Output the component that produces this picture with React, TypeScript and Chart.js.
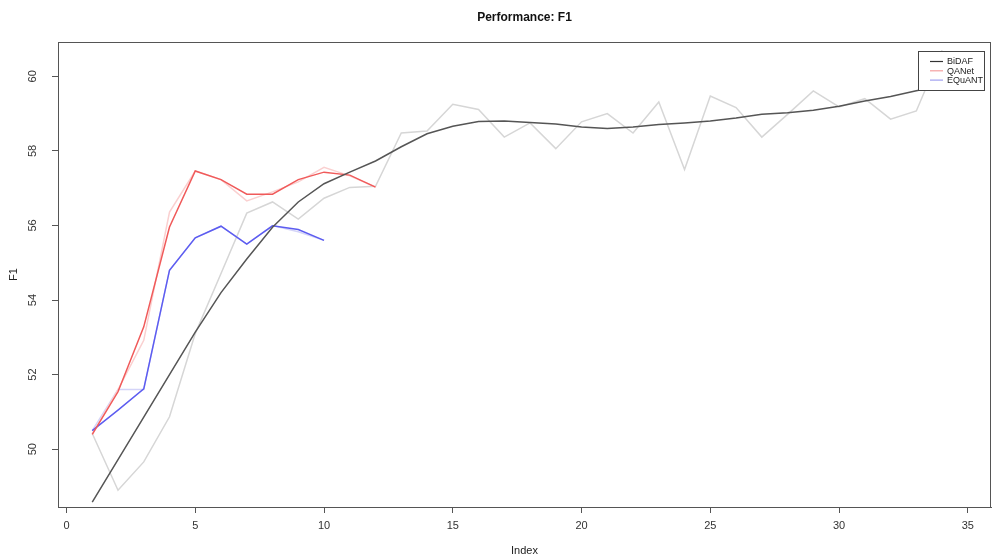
import React, { useEffect, useRef } from "react";
import { Chart, registerables } from "chart.js";

Chart.register(...registerables);

const bidafX = [1, 2, 3, 4, 5, 6, 7, 8, 9, 10, 11, 12, 13, 14, 15, 16, 17, 18, 19, 20, 21, 22, 23, 24, 25, 26, 27, 28, 29, 30, 31, 32, 33, 34];
const bidafSmooth = [48.58, 49.72, 50.86, 52.0, 53.14, 54.2, 55.1, 55.95, 56.63, 57.12, 57.43, 57.73, 58.11, 58.46, 58.66, 58.79, 58.8, 58.76, 58.72, 58.64, 58.6, 58.64, 58.71, 58.75, 58.8, 58.88, 58.98, 59.02, 59.09, 59.2, 59.34, 59.46, 59.61, 59.75];
const bidafRaw = [50.42, 48.9, 49.66, 50.87, 53.1, 54.71, 56.33, 56.63, 56.17, 56.73, 57.02, 57.05, 58.48, 58.53, 59.25, 59.11, 58.37, 58.75, 58.06, 58.78, 59.0, 58.48, 59.31, 57.5, 59.47, 59.16, 58.37, 58.98, 59.61, 59.18, 59.4, 58.85, 59.07, 60.7];

const qanetX = [1, 2, 3, 4, 5, 6, 7, 8, 9, 10, 11, 12];
const qanetSmooth = [50.4, 51.54, 53.28, 55.96, 57.46, 57.23, 56.84, 56.84, 57.23, 57.43, 57.35, 57.03];
const qanetRaw = [50.4, 51.6, 52.92, 56.36, 57.46, 57.23, 56.66, 56.9, 57.17, 57.56, 57.33, 57.03];

const equantX = [1, 2, 3, 4, 5, 6, 7, 8, 9, 10];
const equantSmooth = [50.5, 51.05, 51.62, 54.8, 55.67, 55.98, 55.5, 55.99, 55.89, 55.6];
const equantRaw = [50.5, 51.6, 51.6, 54.8, 55.67, 55.98, 55.5, 56.0, 55.83, 55.6];

const xTicks = [0, 5, 10, 15, 20, 25, 30, 35];
const yTicks = [50, 52, 54, 56, 58, 60];

const legendLabels = ["BiDAF", "QANet", "EQuANT"];
const legendColors = ["#333333", "#f4a0a0", "#a0a0f0"];

const titleText = "Performance: F1";
const xTitle = "Index";
const yTitle = "F1";

const FONT = "'Liberation Sans', Arial, Helvetica, sans-serif";

const pts = (xs: number[], ys: number[]) => xs.map((x, i) => ({ x, y: ys[i] }));

const decorPlugin = {
  id: "decor",
  afterDatasetsDraw(chart: any) {
    const { ctx, chartArea } = chart;
    const { left, right, top, bottom } = chartArea;
    ctx.save();
    // box
    ctx.strokeStyle = "#555555";
    ctx.lineWidth = 1;
    ctx.strokeRect(Math.round(left) + 0.5, Math.round(top) + 0.5, Math.round(right - left) - 1, Math.round(bottom - top));

    // legend
    const lx = 918.5, ly = 51.5, lw = 66, lh = 39;
    ctx.fillStyle = "#ffffff";
    ctx.fillRect(lx, ly, lw, lh);
    ctx.strokeStyle = "#444444";
    ctx.strokeRect(lx, ly, lw, lh);
    ctx.font = `9px ${FONT}`;
    ctx.textBaseline = "middle";
    ctx.textAlign = "left";
    legendLabels.forEach((lab, i) => {
      const yy = 61.5 + i * 9.3;
      ctx.strokeStyle = legendColors[i];
      ctx.lineWidth = 1.2;
      ctx.beginPath();
      ctx.moveTo(930, yy);
      ctx.lineTo(943, yy);
      ctx.stroke();
      ctx.fillStyle = "#222222";
      ctx.fillText(lab, 947, yy + 0.5);
    });

    // titles
    const cx = (left + right) / 2;
    ctx.fillStyle = "#111111";
    ctx.textAlign = "center";
    ctx.textBaseline = "middle";
    ctx.font = `bold 12px ${FONT}`;
    ctx.fillText(titleText, cx, 18);
    ctx.font = `11px ${FONT}`;
    ctx.fillStyle = "#222222";
    ctx.fillText(xTitle, cx, 551);
    ctx.save();
    ctx.translate(14, (top + bottom) / 2);
    ctx.rotate(-Math.PI / 2);
    ctx.fillText(yTitle, 0, 0);
    ctx.restore();
    ctx.restore();
  },
};

export default function App() {
  const ref = useRef<HTMLCanvasElement | null>(null);
  useEffect(() => {
    if (!ref.current) return;
    const tickFont = { family: FONT, size: 11 };
    const chart = new Chart(ref.current, {
      type: "line",
      data: {
        datasets: [
          { label: "BiDAF", data: pts(bidafX, bidafSmooth), borderColor: "#555555", borderWidth: 1.5, order: 1 },
          { label: "QANet", data: pts(qanetX, qanetSmooth), borderColor: "#f05a5a", borderWidth: 1.5, order: 2 },
          { label: "EQuANT", data: pts(equantX, equantSmooth), borderColor: "#5c5cf0", borderWidth: 1.5, order: 3 },
          { label: "BiDAF raw", data: pts(bidafX, bidafRaw), borderColor: "#d6d6d6", borderWidth: 1.5, order: 6 },
          { label: "QANet raw", data: pts(qanetX, qanetRaw), borderColor: "#fad0d0", borderWidth: 1.5, order: 4 },
          { label: "EQuANT raw", data: pts(equantX, equantRaw), borderColor: "#d4d4f8", borderWidth: 1.5, order: 5 },
        ],
      },
      options: {
        responsive: false,
        animation: false,
        devicePixelRatio: 1,
        layout: { padding: { left: 0, top: 42, right: 4, bottom: 0 } },
        elements: { point: { radius: 0 }, line: { tension: 0, fill: false } },
        plugins: { legend: { display: false }, title: { display: false }, tooltip: { enabled: false } },
        scales: {
          x: {
            type: "linear",
            min: -0.33,
            max: 35.9,
            afterBuildTicks: (s: any) => { s.ticks = xTicks.map((v) => ({ value: v })); },
            afterFit: (s: any) => { s.height = 53; },
            grid: { drawOnChartArea: false, drawTicks: true, tickLength: 6, color: "#555555" },
            border: { display: true, color: "#555555" },
            ticks: { font: tickFont, color: "#333333", padding: 6, maxRotation: 0, autoSkip: false },
          },
          y: {
            type: "linear",
            min: 48.45,
            max: 60.92,
            afterBuildTicks: (s: any) => { s.ticks = yTicks.map((v) => ({ value: v })); },
            afterFit: (s: any) => { s.width = 58; },
            grid: { drawOnChartArea: false, drawTicks: true, tickLength: 6, color: "#555555" },
            border: { display: true, color: "#555555" },
            ticks: { font: tickFont, color: "#333333", padding: 13, minRotation: 90, maxRotation: 90, crossAlign: "center", autoSkip: false },
          },
        },
      },
      plugins: [decorPlugin],
    } as any);
    return () => chart.destroy();
  }, []);
  return (
    <div style={{ position: "absolute", left: 0, top: 0, width: 995, height: 560, background: "#fff" }}>
      <canvas ref={ref} width={995} height={560} />
    </div>
  );
}
